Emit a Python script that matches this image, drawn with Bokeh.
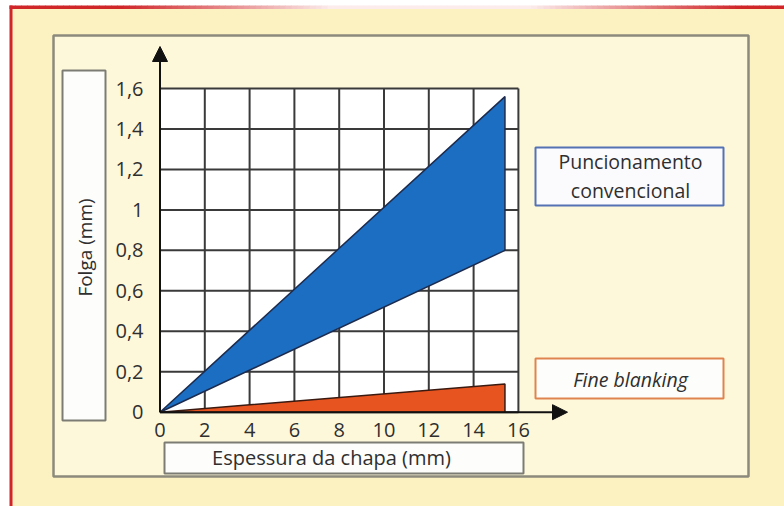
import math
from bokeh.plotting import figure
from bokeh.models import Range1d, Arrow, NormalHead
from bokeh.core.properties import value
from bokeh.embed import file_html
from bokeh.resources import INLINE

# ---------------- data ----------------
x_ticks = [0, 2, 4, 6, 8, 10, 12, 14, 16]
x_tick_labels = ["0", "2", "4", "6", "8", "10", "12", "14", "16"]
y_ticks = [0, 0.2, 0.4, 0.6, 0.8, 1.0, 1.2, 1.4, 1.6]
y_tick_labels = ["0", "0,2", "0,4", "0,6", "0,8", "1", "1,2", "1,4", "1,6"]

conv_x = [0, 15.4, 15.4]      # Puncionamento convencional
conv_y = [0, 1.56, 0.80]
fine_x = [0, 15.4, 15.4]      # Fine blanking
fine_y = [0, 0.14, 0.0]

x_max = 16
y_max = 1.6
x_label = "Espessura da chapa (mm)"
y_label = "Folga (mm)"
legend_conv = ["Puncionamento", "convencional"]
legend_fine = "Fine blanking"

# ---------------- layout helpers (pixel -> data) ----------------
W, H = 784, 506
X0PX, Y0PX = 159.5, 411.7
SX, SY = 22.4, 202.3


def dx(px):
    return (px - X0PX) / SX


def dy(py):
    return (Y0PX - py) / SY


FONT = value("Open Sans")
TXT = "#2f2f2f"

p = figure(width=W, height=H, x_range=Range1d(dx(0), dx(W)), y_range=Range1d(dy(H), dy(0)),
           output_backend="svg", toolbar_location=None, min_border=0,
           x_axis_location=None, y_axis_location=None,
           background_fill_color="white", border_fill_color="white", outline_line_color=None)
p.grid.visible = False

# outer cream frame
p.quad(left=dx(10), right=dx(W + 5), top=dy(6), bottom=dy(H + 5),
       fill_color="#fcf1c0", line_color=None)
# red left border
p.quad(left=dx(9), right=dx(12), top=dy(5), bottom=dy(H + 5),
       fill_color="#d0262a", line_color=None)
# red top border fading to white in the middle
seg = 6
lefts, rights, cols = [], [], []
for s in range(9, W + 6, seg):
    c = s + seg / 2
    f = min(max((abs(c - 430) - 100) / 210.0, 0.0), 1.0)
    r = int(252 + (208 - 252) * f)
    g = int(236 + (38 - 236) * f)
    b = int(236 + (42 - 236) * f)
    lefts.append(dx(s))
    rights.append(dx(s + seg + 0.5))
    cols.append("#%02x%02x%02x" % (r, g, b))
p.quad(left=lefts, right=rights, top=dy(5), bottom=dy(8.5), fill_color=cols, line_color=None)

# inner panel
p.quad(left=dx(53), right=dx(748), top=dy(35), bottom=dy(476),
       fill_color="#fef8db", line_color="#8c8a7c", line_width=2.5)

# grid area
p.quad(left=0, right=x_max, bottom=0, top=y_max, fill_color="white", line_color=None)
p.segment(x0=x_ticks, y0=[0] * len(x_ticks), x1=x_ticks, y1=[y_max] * len(x_ticks),
          line_color="#3a3a3a", line_width=2)
p.segment(x0=[0] * len(y_ticks), y0=y_ticks, x1=[x_max] * len(y_ticks), y1=y_ticks,
          line_color="#3a3a3a", line_width=2)

# data areas
p.patch(conv_x, conv_y, fill_color="#1b6ec2", line_color="#1c2b4e", line_width=1.5)
p.patch(fine_x, fine_y, fill_color="#e8541f", line_color="#3a1a10", line_width=1.5)

# axes arrows
p.add_layout(Arrow(end=NormalHead(size=15, fill_color="#111111", line_color="#111111"),
                   x_start=0, y_start=0, x_end=0, y_end=dy(46),
                   line_color="#111111", line_width=2))
p.add_layout(Arrow(end=NormalHead(size=15, fill_color="#111111", line_color="#111111"),
                   x_start=0, y_start=0, x_end=dx(567), y_end=0,
                   line_color="#111111", line_width=2))

# tick labels
p.text(x=dx(143), y=y_ticks, text=y_tick_labels, text_align="right", text_baseline="middle",
       text_font=FONT, text_font_size="20px", text_color=TXT)
p.text(x=x_ticks, y=dy(429), text=x_tick_labels, text_align="center", text_baseline="middle",
       text_font=FONT, text_font_size="20px", text_color=TXT)

# axis title boxes
p.quad(left=dx(62), right=dx(105), top=dy(70), bottom=dy(420),
       fill_color="#fdfdfb", line_color="#7c7c74", line_width=2)
p.quad(left=dx(164), right=dx(523), top=dy(442), bottom=dy(473),
       fill_color="#fdfdfb", line_color="#7c7c74", line_width=2)
p.text(x=dx(84), y=dy(247), text=[y_label], angle=math.pi / 2, text_align="center",
       text_baseline="middle", text_font=FONT, text_font_size="19px", text_color=TXT)
p.text(x=dx(331), y=dy(457), text=[x_label], text_align="center", text_baseline="middle",
       text_font=FONT, text_font_size="20px", text_color=TXT)

# legend boxes
p.quad(left=dx(535), right=dx(723), top=dy(147), bottom=dy(205),
       fill_color="#fbfbfd", line_color="#5572b4", line_width=2)
p.text(x=dx(630), y=[dy(161), dy(190)], text=legend_conv, text_align="center",
       text_baseline="middle", text_font=FONT, text_font_size="19.5px", text_color=TXT)
p.quad(left=dx(535), right=dx(723), top=dy(358), bottom=dy(398),
       fill_color="#fdfdfb", line_color="#e0844f", line_width=2)
p.text(x=dx(630), y=dy(379), text=[legend_fine], text_align="center", text_baseline="middle",
       text_font=FONT, text_font_size="19.5px", text_font_style="italic", text_color=TXT)

open("out.html", "w").write(file_html(p, INLINE))
